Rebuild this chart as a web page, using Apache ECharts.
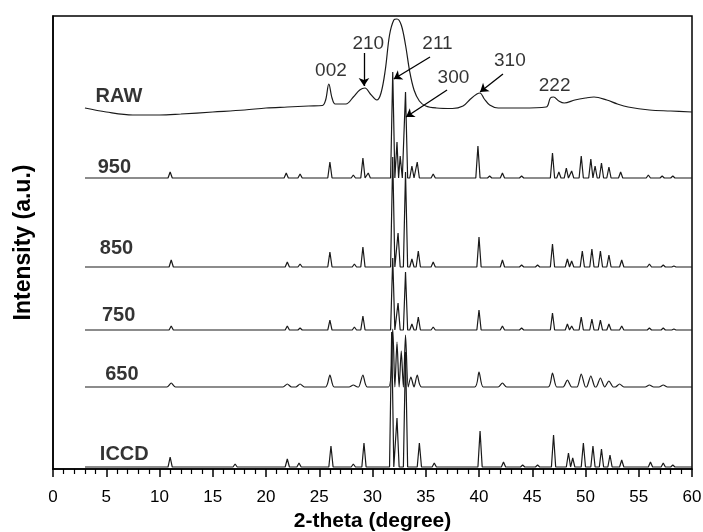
<!DOCTYPE html>
<html><head><meta charset="utf-8">
<script src="https://cdn.jsdelivr.net/npm/echarts@6/dist/echarts.min.js"></script>
<style>html,body{margin:0;padding:0;background:#fff}#c{width:703px;height:532px}</style>
</head><body><div id="c"></div>
<script>
// x-axis range / ticks
const xMin = 0, xMax = 60, xStep = 5;
const yMax = 453;

// RAW measured curve [2-theta, intensity]
const rawCurve = [[3,361],[5,357],[7.5,354],[10,354],[12,355],[15,357],[18,359],[20,361],[22,362],[24,363],[25.3,363.5],[25.6,369],[25.9,385],[26.2,371],[26.5,365],[27.5,365],[28.2,372],[28.8,379],[29.3,381],[29.8,375],[30.4,369],[30.8,376],[31.2,399],[31.6,434],[32.0,449],[32.3,450],[32.7,444],[33.1,424],[33.5,397],[33.9,379],[34.4,368],[35,363],[36,361],[37.5,360.5],[38.5,363],[39.2,370],[39.8,375],[40.1,376],[40.5,370],[41,364],[41.8,361],[44,361],[46.3,362],[46.7,371],[47.0,372],[47.5,368],[48,366],[49,369],[50,371],[50.8,372],[52,369],[53,365],[54,362],[56,359],[58,358],[60,357]];

// Peak lists [2-theta, height above the pattern's baseline]
const peaks950 = [[11.0,6],[21.9,5],[23.2,4],[26.0,16],[28.2,3],[29.1,20],[29.6,5],[31.9,106],[32.3,36],[32.6,22],[33.1,86],[33.7,12],[34.2,16],[35.7,4],[39.9,32],[41.0,2],[42.2,5],[44.0,2],[46.9,25],[47.5,6],[48.2,10],[48.7,7],[49.6,22],[50.5,19],[50.9,12],[51.5,15],[52.2,11],[53.3,6],[55.9,3],[57.2,2],[58.2,2]];
const peaks850 = [[11.1,7],[22.0,5],[23.2,3],[26.0,15],[28.3,3],[29.1,20],[31.9,110],[32.4,34],[33.1,95],[33.7,8],[34.3,16],[35.7,5],[40.0,30],[42.2,7],[44.0,2],[45.5,2],[46.9,23],[48.3,8],[48.7,6],[49.7,16],[50.6,18],[51.4,16],[52.2,12],[53.4,7],[56.0,3],[57.3,2],[58.3,1]];
const peaks750 = [[11.1,4],[22.0,4],[23.2,2],[26.0,10],[28.3,3],[29.1,14],[31.9,72],[32.4,27],[33.1,58],[33.7,6],[34.3,13],[35.7,3],[40.0,20],[42.2,4],[44.0,2],[46.9,17],[48.3,6],[48.7,4],[49.6,13],[50.6,11],[51.4,10],[52.2,6],[53.4,4],[56.0,2],[57.3,2],[58.3,1]];
const peaks650 = [[11.1,4],[22.0,3],[23.2,3],[26.0,12],[28.2,2],[29.1,12],[31.9,58],[32.3,45],[32.7,36],[33.1,52],[33.6,10],[34.2,12],[40.0,15],[42.2,4],[46.9,14],[48.3,7],[49.6,13],[50.5,11],[51.4,9],[52.2,6],[53.2,3],[56.0,2],[57.3,2]];
const peaksICCD = [[11.0,10],[17.1,3],[22.0,8],[23.1,4],[26.1,21],[28.2,3],[29.2,24],[31.8,135],[32.3,49],[33.1,115],[34.4,24],[35.8,4],[40.1,36],[42.3,5],[44.1,2],[45.5,2],[47.0,32],[48.4,14],[48.8,9],[49.8,24],[50.7,21],[51.5,18],[52.3,12],[53.4,7],[56.1,5],[57.3,4],[58.2,2]];

// Pattern baselines (stack offsets) and names
const patternNames = ['950','850','750','650','ICCD'];
const patternBase = [291, 202, 139, 82, 2];
const patternPeaks = [peaks950, peaks850, peaks750, peaks650, peaksICCD];
const patternWidth = [0.2, 0.2, 0.2, 0.4, 0.2];

// annotations: [label, textX, textY] in data coords, arrows [from, to]
const hklLabels = [['002',26.1,398],['210',29.6,425],['211',36.1,425],['300',37.6,391],['310',42.9,408],['222',47.1,383]];
const hklArrows = [[[29.2,416],[29.2,383]],[[35.4,412],[32.0,390]],[[37.0,379],[33.15,352]],[[42.25,395],[40.1,377]]];
const sampleLabels = [['RAW',4.0,373],['950',4.2,302],['850',4.4,221],['750',4.6,154],['650',4.9,95],['ICCD',4.4,15]];

function trace(base, pk, w) {
  const pts = [[3, base]];
  for (let i = 0; i < pk.length; i++) {
    const p = pk[i][0], h = pk[i][1];
    const lf = i > 0 ? Math.max(p - w, (pk[i-1][0] + p) / 2) : p - w;
    const rf = i < pk.length - 1 ? Math.min(p + w, (pk[i+1][0] + p) / 2) : p + w;
    pts.push([lf, base], [p, base + h], [rf, base]);
  }
  pts.push([60, base]);
  return pts;
}

const FONT = "'Liberation Sans', Arial, sans-serif";
const LINE = '#1a1a1a';
const series = [{
  type: 'line', data: rawCurve, showSymbol: false, smooth: 0.35,
  lineStyle: { color: LINE, width: 1.2 }, animation: false,
  markLine: {
    silent: true, symbol: ['none', 'arrow'], symbolSize: 8, animation: false,
    lineStyle: { color: '#000', width: 1.3, type: 'solid' }, label: { show: false },
    data: hklArrows.map(a => [{ coord: a[0] }, { coord: a[1] }])
  }
}];
patternNames.forEach((n, i) => {
  series.push({
    type: 'line', name: n, data: trace(patternBase[i], patternPeaks[i], patternWidth[i]),
    showSymbol: false, smooth: i === 3 ? 0.25 : false, animation: false,
    lineStyle: { color: LINE, width: 1.2 }
  });
});
// text labels as a scatter with invisible symbols
series.push({
  type: 'scatter', symbolSize: 0, animation: false, silent: true,
  data: sampleLabels.map(l => ({ value: [l[1], l[2]], name: l[0] })),
  label: { show: true, position: 'right', distance: 0, formatter: p => p.name,
    fontFamily: FONT, fontWeight: 'bold', fontSize: 20, color: '#000' }
});
series.push({
  type: 'scatter', symbolSize: 0, animation: false, silent: true,
  data: hklLabels.map(l => ({ value: [l[1], l[2]], name: l[0] })),
  label: { show: true, position: 'inside', formatter: p => p.name,
    fontFamily: FONT, fontSize: 19, color: '#000' }
});

const chart = echarts.init(document.getElementById('c'), null, { renderer: 'canvas' });
chart.setOption({
  backgroundColor: '#fff',
  animation: false,
  grid: { left: 53, right: 11, top: 16, bottom: 63, show: true, borderColor: '#000', borderWidth: 1.5,
    containLabel: false, outerBoundsMode: 'none' },
  xAxis: {
    type: 'value', min: xMin, max: xMax, interval: xStep,
    name: '2-theta (degree)', nameLocation: 'middle', nameGap: 42,
    nameTextStyle: { fontFamily: FONT, fontWeight: 'bold', fontSize: 21, color: '#000' },
    axisLine: { lineStyle: { color: '#000', width: 1.5 } },
    axisTick: { show: true, inside: false, length: 8, lineStyle: { color: '#000', width: 1.5 } },
    minorTick: { show: true, splitNumber: 5, length: 5, lineStyle: { color: '#000', width: 1.2 } },
    axisLabel: { fontFamily: FONT, fontSize: 17, color: '#000', margin: 20 },
    splitLine: { show: false }
  },
  yAxis: {
    type: 'value', min: 0, max: yMax,
    name: 'Intensity (a.u.)', nameLocation: 'middle', nameGap: 18,
    nameTextStyle: { fontFamily: FONT, fontWeight: 'bold', fontSize: 23, color: '#000' },
    axisLine: { show: true, lineStyle: { color: '#000', width: 1.5 } },
    axisTick: { show: false }, axisLabel: { show: false }, splitLine: { show: false }
  },
  series: series
});
</script>
</body></html>
